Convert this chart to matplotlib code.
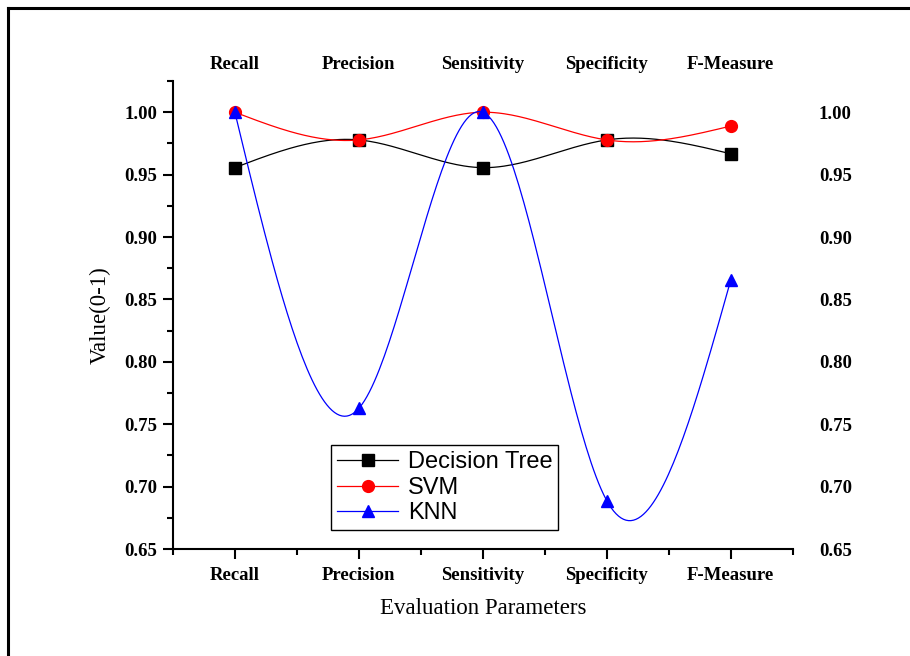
import numpy as np
import matplotlib
matplotlib.use('Agg')
import matplotlib.pyplot as plt
from matplotlib.lines import Line2D
from matplotlib.ticker import MultipleLocator, FormatStrFormatter

# data
params = ['Recall', 'Precision', 'Sensitivity', 'Specificity', 'F-Measure']
decision_tree = [0.9556, 0.9778, 0.9556, 0.9778, 0.9667]
svm = [1.0, 0.9778, 1.0, 0.9778, 0.9889]
knn = [1.0, 0.7627, 1.0, 0.6889, 0.8652]


def natural_spline(x, y, n=200):
    # plain natural cubic spline, like Origin's spline connector
    x = np.asarray(x, float)
    y = np.asarray(y, float)
    k = len(x)
    h = np.diff(x)
    A = np.zeros((k, k))
    b = np.zeros(k)
    A[0, 0] = A[-1, -1] = 1
    for i in range(1, k - 1):
        A[i, i - 1] = h[i - 1]
        A[i, i] = 2 * (h[i - 1] + h[i])
        A[i, i + 1] = h[i]
        b[i] = 6 * ((y[i + 1] - y[i]) / h[i] - (y[i] - y[i - 1]) / h[i - 1])
    M = np.linalg.solve(A, b)
    xs = np.linspace(x[0], x[-1], n)
    idx = np.clip(np.searchsorted(x, xs) - 1, 0, k - 2)
    t = xs - x[idx]
    hi = h[idx]
    ys = (M[idx] * (x[idx + 1] - xs) ** 3 / (6 * hi) + M[idx + 1] * t ** 3 / (6 * hi)
          + (y[idx] / hi - M[idx] * hi / 6) * (x[idx + 1] - xs)
          + (y[idx + 1] / hi - M[idx + 1] * hi / 6) * t)
    return xs, ys


tick_font = {'family': 'Liberation Serif', 'weight': 'bold', 'size': 13.5}

fig = plt.figure(figsize=(9.1, 6.56), dpi=100)
ax = fig.add_axes([0.190, 0.163, 0.681, 0.7135])

xpos = np.arange(1, len(params) + 1)
series = [('Decision Tree', decision_tree, 'black', 's'),
          ('SVM', svm, 'red', 'o'),
          ('KNN', knn, 'blue', '^')]
handles = []
for name, vals, col, mk in series:
    xs, ys = natural_spline(xpos, vals)
    ax.plot(xs, ys, color=col, lw=0.9)
    ax.plot(xpos, vals, ls='none', marker=mk, color=col, ms=8.5)
    handles.append(Line2D([], [], color=col, lw=0.9, marker=mk, ms=8.5, label=name))

ax.set_xlim(0.5, 5.5)
ax.set_ylim(0.65, 1.025)
ax.set_xticks(xpos)
ax.set_xticklabels(params, fontdict=tick_font)
ax.xaxis.set_minor_locator(MultipleLocator(0.5))
ax.yaxis.set_major_locator(MultipleLocator(0.05))
ax.yaxis.set_minor_locator(MultipleLocator(0.025))
ax.yaxis.set_major_formatter(FormatStrFormatter('%.2f'))
for lab in ax.get_yticklabels():
    lab.set(**tick_font)

for s in ['top', 'right']:
    ax.spines[s].set_visible(False)
for s in ['left', 'bottom']:
    ax.spines[s].set_linewidth(1.5)

ax.tick_params(axis='both', which='major', direction='out', length=7, width=1.5)
ax.tick_params(axis='both', which='minor', direction='out', length=4, width=1.5)
ax.tick_params(axis='x', which='major', pad=6)
ax.tick_params(axis='y', which='major', pad=4)

# labels repeated on top and right, without ticks or spines
ax_top = ax.twiny()
ax_top.set_xlim(ax.get_xlim())
ax_top.set_xticks(xpos)
ax_top.set_xticklabels(params, fontdict=tick_font)
ax_top.tick_params(axis='x', length=0, pad=6)
ax_right = ax.twinx()
ax_right.set_ylim(ax.get_ylim())
ax_right.yaxis.set_major_locator(MultipleLocator(0.05))
ax_right.yaxis.set_major_formatter(FormatStrFormatter('%.2f'))
ax_right.tick_params(axis='y', length=0, pad=19)
for lab in ax_right.get_yticklabels():
    lab.set(**tick_font)
for a in (ax_top, ax_right):
    for s in a.spines.values():
        s.set_visible(False)

ax.set_xlabel('Evaluation Parameters', family='Liberation Serif', size=16.5, labelpad=10)
ax.set_ylabel('Value(0-1)', family='Liberation Serif', size=16.5, labelpad=10)

leg = ax.legend(handles=handles, loc='lower left', bbox_to_anchor=(0.255, 0.04),
                borderaxespad=0, fancybox=False, edgecolor='black', framealpha=1,
                prop={'family': 'Liberation Sans', 'size': 17}, handlelength=2.6,
                labelspacing=0.15, borderpad=0.25, handletextpad=0.4)
leg.get_frame().set_linewidth(1.0)

# partial frame around the figure (left and top edges)
fig.add_artist(Line2D([8 / 910, 8 / 910], [0, 1 - 8 / 656], color='black', lw=2.2,
                      transform=fig.transFigure))
fig.add_artist(Line2D([8 / 910, 1], [1 - 8 / 656, 1 - 8 / 656], color='black', lw=2.2,
                      transform=fig.transFigure))

fig.savefig('out.png', dpi=100)
